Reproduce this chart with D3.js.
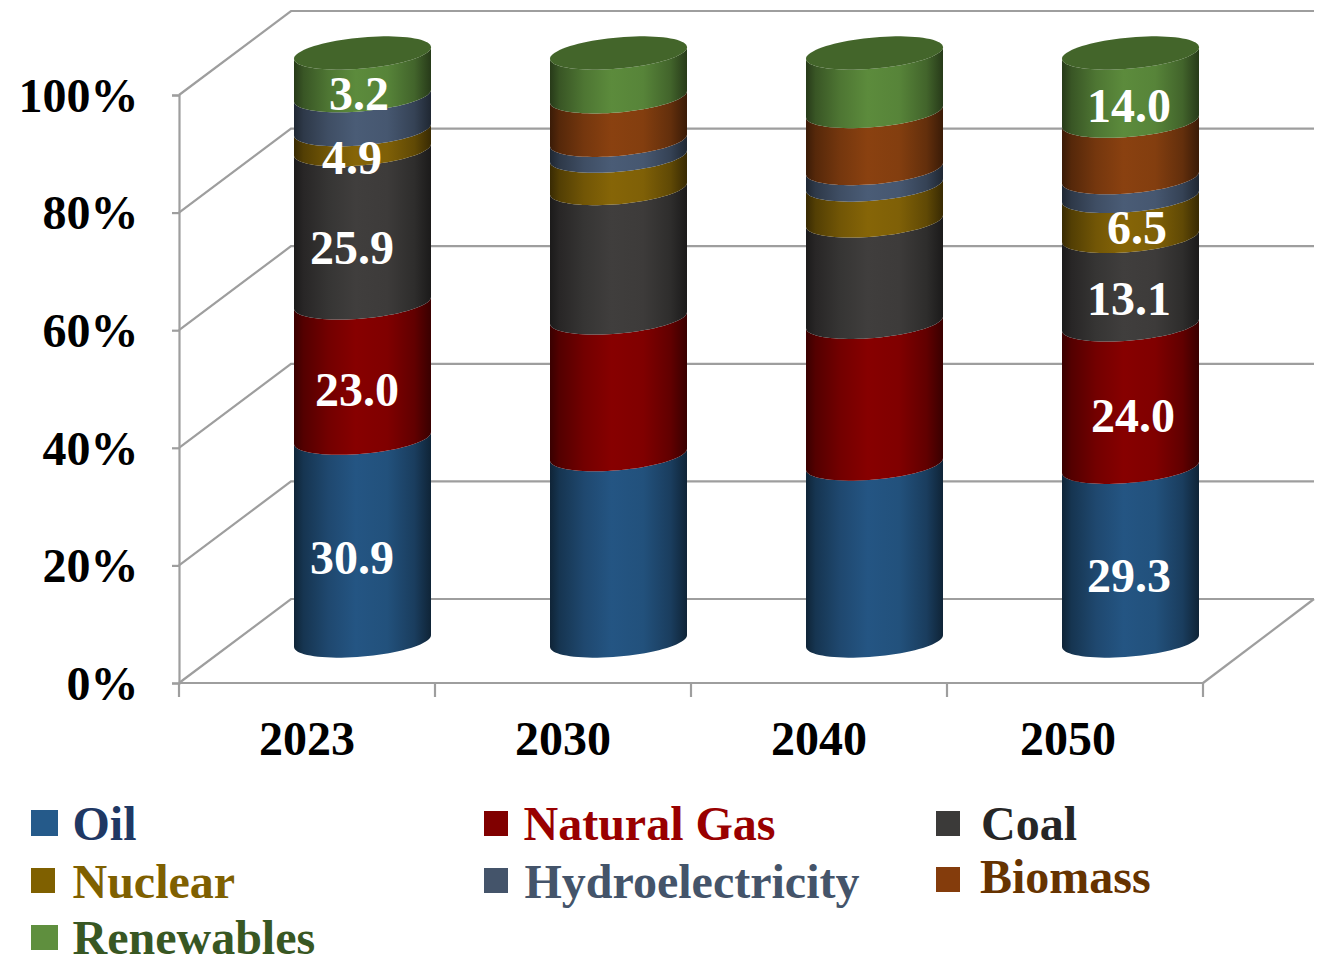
<!DOCTYPE html>
<html>
<head>
<meta charset="utf-8">
<script src="https://cdn.jsdelivr.net/npm/d3@7/dist/d3.min.js"></script>
<style>
html,body{margin:0;padding:0;background:#fff;overflow:hidden}
svg{display:block}
text{font-family:"Liberation Serif","Times New Roman",serif;font-weight:bold}
</style>
</head>
<body>
<svg id="chart" width="1319" height="958"></svg>
<script>
const categories = ["2023","2030","2040","2050"];
const seriesNames = ["Oil","Natural Gas","Coal","Nuclear","Hydroelectricity","Biomass","Renewables"];
// band heights as drawn, in percent of the stack
const oil            = [34.5,31.7,30.1,29.55];
const naturalGas     = [23.0,23.25,24.1,24.2];
const coal           = [26.05,22.0,17.25,15.05];
const nuclear        = [3.4,5.5,6.1,6.8];
const hydro          = [5.8,2.7,2.8,3.2];
const biomass        = [0,7.4,9.7,9.6];
const renewables     = [7.25,7.45,9.95,11.6];
// printed data labels
const oilLabels        = ["30.9",null,null,"29.3"];
const gasLabels        = ["23.0",null,null,"24.0"];
const coalLabels       = ["25.9",null,null,"13.1"];
const nuclearLabels    = ["4.9",null,null,"6.5"];
const renewablesLabels = ["3.2",null,null,"14.0"];
const tickValues = [0,20,40,60,80,100];

const seriesValues = [oil,naturalGas,coal,nuclear,hydro,biomass,renewables];
const seriesLabels = [oilLabels,gasLabels,coalLabels,nuclearLabels,null,null,renewablesLabels];

// styling and layout
const bodyColors = ["#245583","#870000","#403e3d","#866507","#4a5c76","#8a4110","#5c8b3c"];
const swatchColors = ["#255a8a","#800000","#3b3a39","#7f6000","#44546a","#843c0c","#5f8f3e"];
const textColors = ["#1f3864","#990000","#262626","#7f6000","#44546a","#663300","#385723"];
const legendPos = [
  {sx:31,sy:810,sw:27,sh:26,tx:72.5,ty:840},
  {sx:484,sy:811,sw:24,sh:25,tx:523.5,ty:840},
  {sx:936,sy:811,sw:24,sh:25,tx:981,ty:840},
  {sx:31,sy:868,sw:24,sh:25,tx:72.5,ty:898},
  {sx:484,sy:868,sw:24,sh:25,tx:524.5,ty:898},
  {sx:936,sy:867,sw:24,sh:25,tx:980,ty:893},
  {sx:31,sy:925,sw:27,sh:25,tx:72.5,ty:954}
];
// label nudges from the centre of each band, by [series][bar]
const labelNudge = {
  "0-0":[-10.5,34],"1-0":[-5.5,35],"2-0":[-10.5,38],"3-0":[-10.5,34],"6-0":[-3.5,35.5],
  "0-3":[-1.5,38],"1-3":[2.5,35.5],"2-3":[-1.5,34.5],"3-3":[6.5,28],"6-3":[-1.5,35]
};
const catNudge = [0,0,0,-7];

const fontSize = 48, gridColor = "#9e9e9e", gridWidth = 2.2;
const depthX = 112, depthY = 84;
const plotLeft = 179, plotRight = 1203, plotBottom = 683, plotTop = 95, gridRight = 1314;
const halfW = 68.5, capB = 15.6, capTilt = 5.85, barDepthX = 55.5;

const svg = d3.select("#chart");
const x = d3.scaleBand().domain(categories).range([plotLeft,plotRight]);
const y = d3.scaleLinear().domain([0,100]).range([plotBottom,plotTop]);
const barCx = c => x(c) + x.bandwidth()/2 + barDepthX;
const barY = v => y(v) - depthY/2;

// walls and floor
const grid = svg.append("g").attr("fill","none").attr("stroke",gridColor).attr("stroke-width",gridWidth);
grid.selectAll("path.g").data(tickValues).join("path").attr("class","g")
  .attr("d",v=>`M${plotLeft},${y(v)}L${plotLeft+depthX},${y(v)-depthY}L${gridRight},${y(v)-depthY}`);
grid.append("path").attr("d",`M${plotRight},${plotBottom}L${gridRight},${plotBottom-depthY}`);
grid.append("path").attr("d",`M${plotLeft},${plotBottom}H${plotRight}`);

// axes
const yAxis = d3.axisLeft(y).tickValues(tickValues).tickFormat(d=>d+"%").tickSize(7).tickPadding(33.5);
const ya = svg.append("g").attr("transform",`translate(${plotLeft},0)`).call(yAxis);
ya.select(".domain").attr("stroke",gridColor).attr("stroke-width",gridWidth);
ya.selectAll(".tick line").attr("stroke",gridColor).attr("stroke-width",gridWidth);
ya.selectAll("text").attr("font-size",fontSize).attr("font-family",'"Liberation Serif",serif').attr("font-weight","bold").attr("fill","#000").attr("dy","0.34em");

const edges = categories.map(c=>x(c)).concat([plotRight]);
svg.append("g").selectAll("line").data(edges).join("line")
  .attr("x1",d=>d).attr("x2",d=>d).attr("y1",plotBottom).attr("y2",plotBottom+14)
  .attr("stroke",gridColor).attr("stroke-width",gridWidth);
svg.append("g").selectAll("text").data(categories).join("text")
  .attr("x",(c,i)=>x(c)+x.bandwidth()/2+catNudge[i]).attr("y",plotBottom+72)
  .attr("text-anchor","middle").attr("font-size",fontSize).attr("fill","#000").text(c=>c);

// gradients
const defs = svg.append("defs");
const shadeStops = [[0,.42],[.07,.62],[.25,.85],[.45,1],[.68,.95],[.88,.72],[1,.42]];
bodyColors.forEach((col,i)=>{
  const g = defs.append("linearGradient").attr("id","body"+i)
    .attr("x1","0").attr("x2","1").attr("y1","0").attr("y2","0");
  const c = d3.rgb(col);
  shadeStops.forEach(([o,k])=>{
    g.append("stop").attr("offset",o).attr("stop-color",d3.rgb(c.r*k,c.g*k,c.b*k).formatHex());
  });
});

// cylinders
const line = d3.line();
const arcTs = d3.range(0,41).map(i=>Math.PI*(1-i/40));
const frontArc = (cx,cy) => arcTs.map(t=>[cx+halfW*Math.cos(t), cy+capB*Math.sin(t)-capTilt*Math.cos(t)]);
const labelG = [];
categories.forEach((c,b)=>{
  const cx = barCx(c);
  const g = svg.append("g");
  const stack = d3.cumsum(seriesValues.map(s=>s[b]));
  seriesValues.forEach((s,i)=>{
    if(s[b]<=0) return;
    const v0 = stack[i]-s[b], v1 = stack[i];
    const lower = frontArc(cx,barY(v0));
    const upper = frontArc(cx,barY(v1)).reverse();
    g.append("path").attr("d",line(lower.concat(upper))+"Z").attr("fill",`url(#body${i})`);
    const lab = seriesLabels[i] && seriesLabels[i][b];
    if(lab){
      const n = labelNudge[i+"-"+b];
      labelG.push({t:lab,x:cx+n[0],y:barY((v0+v1)/2)+n[1]});
    }
  });
  // top cap
  const capY = barY(stack[stack.length-1]);
  const capFront = frontArc(cx,capY);
  const capBack = arcTs.map(t=>[cx+halfW*Math.cos(t), capY-capB*Math.sin(t)-capTilt*Math.cos(t)]).reverse();
  g.append("path").attr("d",line(capFront.concat(capBack))+"Z").attr("fill","#43652a");
});

// data labels
svg.append("g").selectAll("text").data(labelG).join("text")
  .attr("x",d=>d.x).attr("y",d=>d.y).attr("text-anchor","middle")
  .attr("font-size",fontSize).attr("fill","#fff").text(d=>d.t);

// legend
const lg = svg.append("g");
seriesNames.forEach((n,i)=>{
  const p = legendPos[i];
  lg.append("rect").attr("x",p.sx).attr("y",p.sy).attr("width",p.sw).attr("height",p.sh).attr("fill",swatchColors[i]);
  lg.append("text").attr("x",p.tx).attr("y",p.ty).attr("font-size",fontSize).attr("fill",textColors[i]).text(n);
});
</script>
</body>
</html>
